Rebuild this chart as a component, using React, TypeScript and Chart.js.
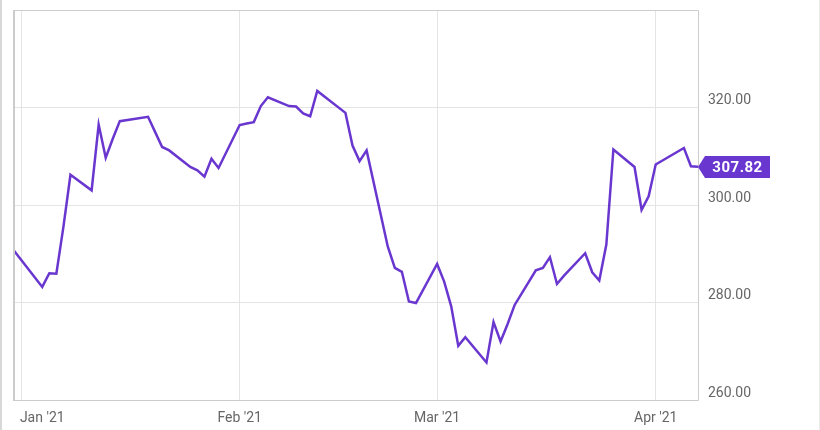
import { useEffect, useRef } from 'react';
import { Chart, registerables } from 'chart.js';

Chart.register(...registerables);

// Trading days (close prices), Dec 31 2020 – Apr 7 2021
const dates = [
  '2020-12-31', '2021-01-04', '2021-01-05', '2021-01-06', '2021-01-07', '2021-01-08',
  '2021-01-11', '2021-01-12', '2021-01-13', '2021-01-14', '2021-01-15',
  '2021-01-19', '2021-01-20', '2021-01-21', '2021-01-22',
  '2021-01-25', '2021-01-26', '2021-01-27', '2021-01-28', '2021-01-29',
  '2021-02-01', '2021-02-02', '2021-02-03', '2021-02-04', '2021-02-05',
  '2021-02-08', '2021-02-09', '2021-02-10', '2021-02-11', '2021-02-12',
  '2021-02-16', '2021-02-17', '2021-02-18', '2021-02-19',
  '2021-02-22', '2021-02-23', '2021-02-24', '2021-02-25', '2021-02-26',
  '2021-03-01', '2021-03-02', '2021-03-03', '2021-03-04', '2021-03-05',
  '2021-03-08', '2021-03-09', '2021-03-10', '2021-03-11', '2021-03-12',
  '2021-03-15', '2021-03-16', '2021-03-17', '2021-03-18', '2021-03-19',
  '2021-03-22', '2021-03-23', '2021-03-24', '2021-03-25', '2021-03-26',
  '2021-03-29', '2021-03-30', '2021-03-31', '2021-04-01',
  '2021-04-05', '2021-04-06', '2021-04-07',
];

const prices = [
  290.6, 283.2, 286.0, 285.9, 295.5, 306.2,
  303.0, 316.5, 309.7, 313.6, 317.2,
  318.1, 315.0, 311.9, 311.2,
  307.8, 307.1, 305.8, 309.5, 307.6,
  316.4, 316.7, 317.0, 320.3, 322.1,
  320.3, 320.2, 318.8, 318.2, 323.4,
  318.9, 312.2, 309.0, 311.2,
  291.5, 287.1, 286.3, 280.2, 279.9,
  287.9, 284.3, 279.2, 271.1, 272.9,
  267.7, 276.0, 272.0, 275.6, 279.5,
  286.6, 287.1, 289.3, 283.8, 285.5,
  290.1, 286.2, 284.5, 291.9, 311.4,
  307.8, 299.0, 301.8, 308.3,
  311.7, 307.95, 307.82,
];

const xTickDates = ['2021-01-01', '2021-01-04', '2021-02-01', '2021-03-01', '2021-04-01'];
const xTickLabels = ['', "Jan '21", "Feb '21", "Mar '21", "Apr '21"];
const xGridShown = [true, false, true, true, true];
const yTicks = [260, 280, 300, 320, 340];
const yTickShown = [true, true, true, true, false];
const lastValueLabel = '307.82';

const LINE_COLOR = '#6937cf';

const dayOf = (s: string) =>
  (Date.parse(s + 'T00:00:00Z') - Date.parse('2021-01-01T00:00:00Z')) / 86400000;

export default function App() {
  const canvasRef = useRef<HTMLCanvasElement | null>(null);

  useEffect(() => {
    document.body.style.margin = '0';
    const canvas = canvasRef.current;
    if (!canvas) return;

    const framePlugin = {
      id: 'frameAndFlag',
      afterDraw(chart: any) {
        const { ctx, chartArea: ca } = chart;
        const yScale = chart.scales.y;
        ctx.save();
        // page side lines
        ctx.fillStyle = '#d8d8d8';
        ctx.fillRect(0, 0, 2, chart.height);
        ctx.fillStyle = '#ececec';
        ctx.fillRect(chart.width - 1, 0, 1, chart.height);
        // plot frame
        ctx.strokeStyle = '#cccccc';
        ctx.lineWidth = 1;
        ctx.beginPath();
        ctx.moveTo(ca.left, ca.top + 0.5);
        ctx.lineTo(ca.right + 0.5, ca.top + 0.5);
        ctx.lineTo(ca.right + 0.5, ca.bottom + 0.5);
        ctx.lineTo(ca.left, ca.bottom + 0.5);
        ctx.stroke();
        ctx.lineWidth = 2;
        ctx.beginPath();
        ctx.moveTo(ca.left + 1, ca.top);
        ctx.lineTo(ca.left + 1, ca.bottom + 1);
        ctx.stroke();
        // last value flag
        const last = prices[prices.length - 1];
        const y = Math.round(yScale.getPixelForValue(last));
        const tip = ca.right;
        const bx = tip + 7;
        const bw = 65;
        const h = 11;
        ctx.fillStyle = LINE_COLOR;
        ctx.beginPath();
        ctx.moveTo(tip, y);
        ctx.lineTo(bx, y - h);
        ctx.lineTo(bx + bw, y - h);
        ctx.lineTo(bx + bw, y + h);
        ctx.lineTo(bx, y + h);
        ctx.closePath();
        ctx.fill();
        ctx.fillStyle = '#ffffff';
        ctx.font = 'bold 15px Roboto';
        ctx.textAlign = 'center';
        ctx.textBaseline = 'middle';
        (ctx as any).letterSpacing = '0.5px';
        ctx.fillText(lastValueLabel, bx + bw / 2, y + 1);
        ctx.restore();
      },
    };

    const zeroPad = (s: any) => {
      s.paddingTop = 0;
      s.paddingBottom = 0;
      s.paddingLeft = 0;
      s.paddingRight = 0;
    };

    const chart = new Chart(canvas, {
      type: 'line',
      data: {
        datasets: [
          {
            data: dates.map((d, i) => ({ x: dayOf(d), y: prices[i] })),
            borderColor: LINE_COLOR,
            borderWidth: 2.5,
            pointRadius: 0,
            tension: 0,
            fill: false,
          },
        ],
      },
      options: {
        animation: false,
        responsive: false,
        devicePixelRatio: 1,
        layout: { padding: { left: 13, top: 10, right: 0, bottom: 0 } },
        plugins: {
          legend: { display: false },
          tooltip: { enabled: false },
        },
        scales: {
          x: {
            type: 'linear',
            min: -1.15,
            max: 96,
            afterBuildTicks: (s: any) => {
              s.ticks = xTickDates.map((d) => ({ value: dayOf(d) }));
            },
            afterFit: (s: any) => {
              s.height = 30;
              zeroPad(s);
            },
            ticks: {
              autoSkip: false,
              maxRotation: 0,
              padding: 10,
              color: '#666666',
              font: { family: 'Roboto', size: 14 },
              callback: (_v: any, i: number) => xTickLabels[i],
            },
            grid: {
              drawTicks: false,
              color: (c: any) => (xGridShown[c.index] ? '#e4e4e4' : 'rgba(0,0,0,0)'),
            },
            border: { display: false },
          },
          y: {
            position: 'right',
            min: 260,
            max: 340,
            afterBuildTicks: (s: any) => {
              s.ticks = yTicks.map((v) => ({ value: v }));
            },
            afterFit: (s: any) => {
              s.width = 122;
              zeroPad(s);
            },
            ticks: {
              padding: 10,
              labelOffset: -7,
              color: '#666666',
              font: { family: 'Roboto', size: 14 },
              callback: (v: any, i: number) => (yTickShown[i] ? Number(v).toFixed(2) : ''),
            },
            grid: {
              drawTicks: false,
              color: '#e4e4e4',
            },
            border: { display: false },
          },
        },
      },
      plugins: [framePlugin],
    });

    return () => chart.destroy();
  }, []);

  return (
    <div style={{ width: 820, height: 430 }}>
      <canvas ref={canvasRef} width={820} height={430} style={{ width: 820, height: 430, display: 'block' }} />
    </div>
  );
}
